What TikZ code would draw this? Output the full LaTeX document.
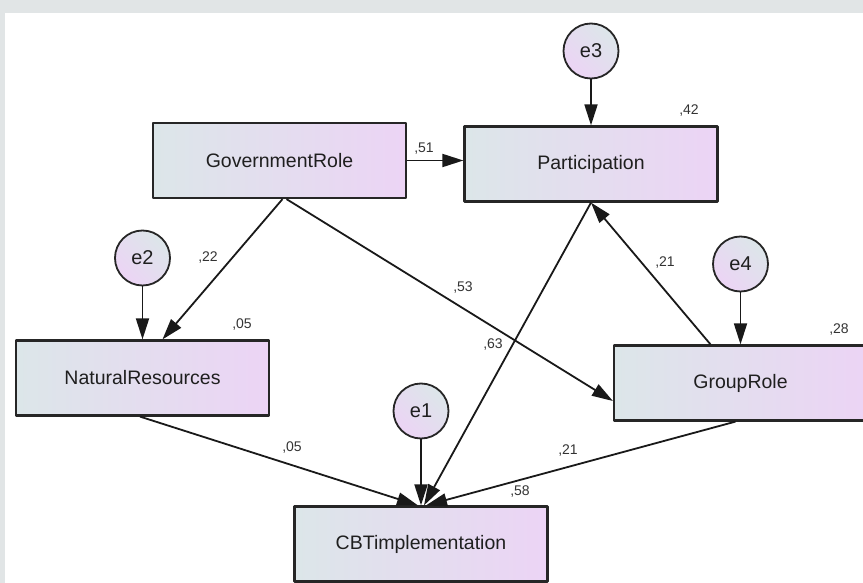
\documentclass[tikz,border=0pt]{standalone}
\usepackage{fontspec}
\setmainfont{Liberation Sans}
\usetikzlibrary{arrows.meta}
\definecolor{shadel}{RGB}{220,230,233}
\definecolor{shader}{RGB}{236,212,245}
\definecolor{frame}{RGB}{225,229,230}
\tikzset{
	var/.style={draw=black!85,line width=2.2pt,minimum width=253pt,minimum height=75pt,
		left color=shadel,right color=shader,text=black!88,font=\fontsize{19.5}{23}\selectfont},
	err/.style={circle,draw=black!85,line width=1.8pt,minimum size=55pt,inner sep=0pt,
		left color=shadel,right color=shader,shading angle=-45,text=black!88,font=\fontsize{20}{23}\selectfont},
	coef/.style={inner sep=0pt,text=black!80,font=\fontsize{14}{16}\selectfont},
	path/.style={->,line width=1.8pt,black!90}
}
\begin{document}
\begin{tikzpicture}[>={Triangle[length=21pt,width=13pt]},line join=round,x=1pt,y=-1pt]
				\useasboundingbox (0,0) rectangle (863,583);
				\fill[frame] (0,0) rectangle (863,583);
				\fill[white] (5,13) rectangle (863,583);
				% observed variables
				\node[var] (gov) at (279.5,160.5) {GovernmentRole};
				\node[var] (part) at (591,164) {Participation};
				\node[var] (nat) at (142.5,378) {NaturalResources};
				\node[var] (grp) at (740.5,383) {GroupRole};
				\node[var] (cbt) at (421,544) {CBTimplementation};
				% error terms
				\node[err] (e1) at (421,411) {e1};
				\node[err] (e2) at (142.5,258) {e2};
				\node[err] (e3) at (591,51) {e3};
				\node[err] (e4) at (740.5,264) {e4};
				\foreach \e/\v in {e1/cbt,e2/nat,e3/part,e4/grp}{
					\draw[path] (\e) -- (\v.north);
				}
				% paths
				\draw[path] (gov.east) -- (gov.east -| part.west);
				\draw[path] ([xshift=3pt]gov.south) -- ([xshift=20pt]nat.north);
				\draw[path] ([xshift=7pt]gov.south) -- ([yshift=-18pt]grp.west);
				\draw[path] ([xshift=-30pt]grp.north) -- (part.south);
				\draw[path] (part.south) -- ([xshift=3pt]cbt.north);
				\draw[path] ([xshift=-2.5pt]nat.south) -- ([xshift=-3pt]cbt.north);
				\draw[path] ([xshift=-5pt]grp.south) -- ([xshift=5pt]cbt.north);
				% estimates
				\foreach \t/\x/\y [count=\k] in {51/424/149,42/689/111,22/208/258,05/242/325,53/463/288,
					63/493/345,21/665/263,28/839/330,05/292/448,21/568/451,58/520/492}{
					\node[coef] (c\k) at (\x,\y) {,\t};
				}
			\end{tikzpicture}
\end{document}
